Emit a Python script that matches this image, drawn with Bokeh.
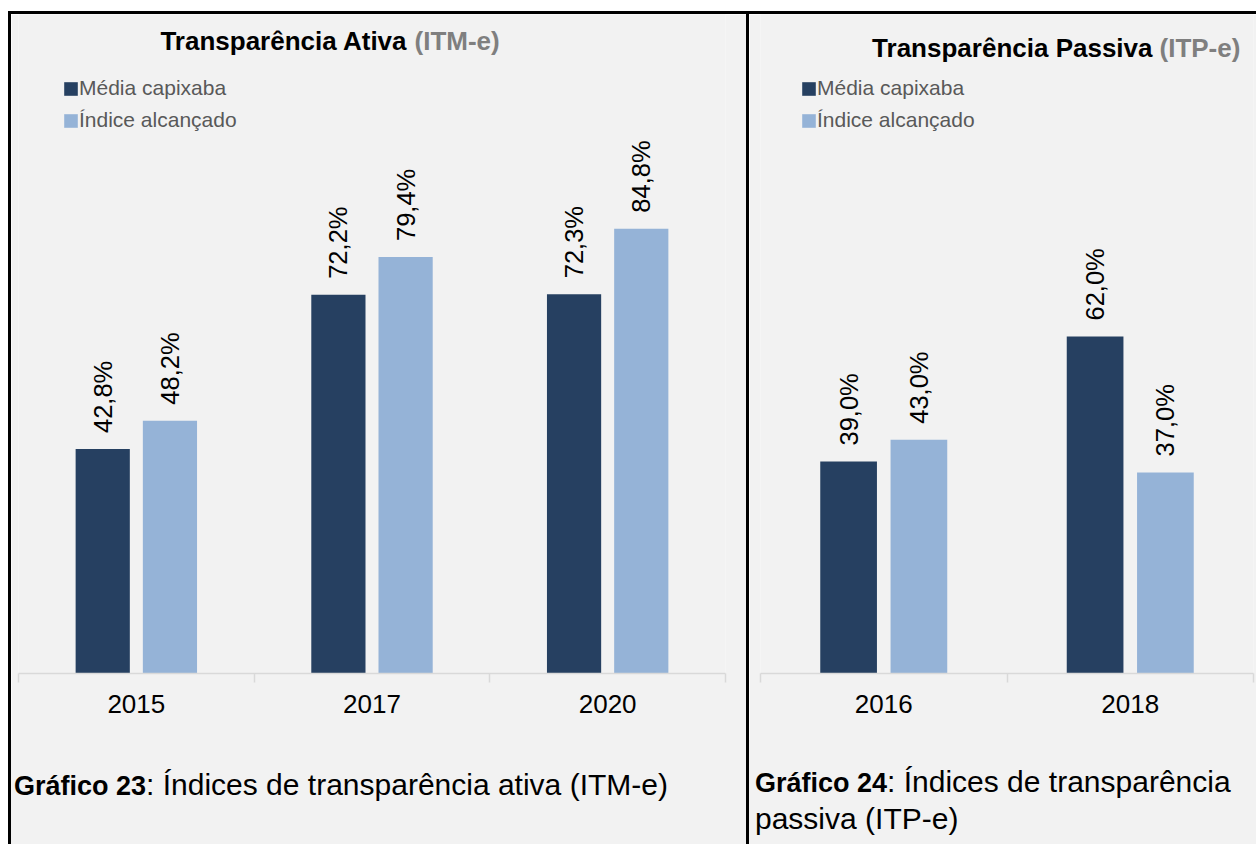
import math
from bokeh.plotting import figure
from bokeh.models import (Range1d, FixedTicker, ColumnDataSource, Label, Legend,
                          LegendItem, Spacer, Div)
from bokeh.layouts import row, column
from bokeh.core.properties import value
from bokeh.embed import file_html
from bokeh.resources import INLINE

# ---------------- data ----------------
years_ativa = ["2015", "2017", "2020"]
media_ativa = [42.8, 72.2, 72.3]
indice_ativa = [48.2, 79.4, 84.8]

years_passiva = ["2016", "2018"]
media_passiva = [39.0, 62.0]
indice_passiva = [43.0, 37.0]

series_names = ["Média capixaba", "Índice alcançado"]

caption_ativa = ("Gráfico 23", ": Índices de transparência ativa (ITM-e)")
caption_passiva = ("Gráfico 24", ": Índices de transparência<br>passiva (ITP-e)")

# ---------------- style ----------------
FONT = "Liberation Sans"
BG = "#f2f2f2"
DARK = "#264061"
LIGHT = "#95b3d7"
AXIS_GREY = "#d9d9d9"
OFF = 0.1426
BW = 0.23
FIG_H = 726
CAP_H = 104


def fmt(v):
    return f"{v:.1f}".replace(".", ",") + "%"


def make_panel(years, media, indice, width, borders, px_per_100, title_parts,
               legend_loc, caption, cap_pad):
    n = len(years)
    left, right, bottom = borders
    frame_h = FIG_H - bottom
    y_end = 100.0 * frame_h / px_per_100
    p = figure(width=width, height=FIG_H, x_range=Range1d(0, n),
               y_range=Range1d(0, y_end), output_backend="svg",
               toolbar_location=None, y_axis_location=None)
    p.min_border = 0
    p.min_border_left = left
    p.min_border_right = right
    p.min_border_top = 0
    p.min_border_bottom = bottom
    p.background_fill_color = BG
    p.border_fill_color = BG
    p.outline_line_color = None
    p.grid.visible = False

    centers = [i + 0.5 for i in range(n)]
    src = ColumnDataSource(dict(
        xm=[c - OFF for c in centers], xi=[c + OFF for c in centers],
        media=media, indice=indice,
        lm=[fmt(v) for v in media], li=[fmt(v) for v in indice]))

    r1 = p.vbar(x="xm", top="media", bottom=0, width=BW, source=src,
                fill_color=DARK, line_color=None)
    r2 = p.vbar(x="xi", top="indice", bottom=0, width=BW, source=src,
                fill_color=LIGHT, line_color=None)
    for xcol, tcol in (("xm", "media"), ("xi", "indice")):
        p.text(x=xcol, y=tcol, text="l" + tcol[0], source=src,
               angle=math.pi / 2, text_align="left", text_baseline="middle",
               y_offset=-16, text_font=value(FONT), text_font_size="25.5px",
               text_color="black")

    ax = p.xaxis[0]
    ax.ticker = FixedTicker(ticks=centers, minor_ticks=list(range(n + 1)))
    ax.major_label_overrides = {c: y for c, y in zip(centers, years)}
    ax.axis_line_color = AXIS_GREY
    ax.axis_line_width = 1.5
    ax.major_tick_line_color = None
    ax.major_tick_in = 0
    ax.major_tick_out = 0
    ax.minor_tick_line_color = AXIS_GREY
    ax.minor_tick_line_width = 1.5
    ax.minor_tick_in = 0
    ax.minor_tick_out = 9
    ax.major_label_standoff = 12
    ax.major_label_text_font = FONT
    ax.major_label_text_font_size = "26px"
    ax.major_label_text_color = "black"

    legend = Legend(items=[LegendItem(label=series_names[0], renderers=[r1]),
                           LegendItem(label=series_names[1], renderers=[r2])],
                    location=legend_loc, orientation="vertical",
                    glyph_width=17, glyph_height=17, label_height=24,
                    label_standoff=0, spacing=8, padding=0, margin=0,
                    label_text_font=FONT, label_text_font_size="21px",
                    label_text_color="#595959", border_line_color=None,
                    background_fill_alpha=0)
    p.add_layout(legend)

    for (txt, x, y, align, color) in title_parts:
        p.add_layout(Label(x=x, y=y, x_units="screen", y_units="screen",
                           text=txt, text_align=align, text_baseline="alphabetic",
                           text_font=FONT, text_font_size="26px",
                           text_font_style="bold", text_color=color))

    pad_top, pad_left = cap_pad
    html = (f"<div style=\"font-family:'{FONT}';font-size:30px;line-height:35px;"
            f"color:#000;padding-top:{pad_top}px;padding-left:{pad_left}px;"
            f"white-space:nowrap;\">"
            f"<b style=\"font-size:27px\">{caption[0]}</b>{caption[1]}</div>")
    d = Div(text=html, width=width, height=CAP_H,
            styles={"background-color": BG, "margin": "0", "padding": "0"})
    return column(p, d, spacing=0)


W1, W2 = 735, 507
panel1 = make_panel(
    years_ativa, media_ativa, indice_ativa, W1, (7, 21, 67), 524.5,
    [("Transparência Ativa", 389, 633, "right", "black"),
     ("(ITM-e)", 396, 633, "left", "#7f7f7f")],
    (44, 541), caption_ativa, (27, 3))

panel2 = make_panel(
    years_passiva, media_passiva, indice_passiva, W2, (11, 3, 67), 543.5,
    [("Transparência Passiva", 392, 626, "right", "black"),
     ("(ITP-e)", 399, 626, "left", "#7f7f7f")],
    (40, 541), caption_passiva, (24, 6))

PANEL_H = FIG_H + CAP_H
INNER_W = 3 + W1 + 3 + W2

layout = column(
    Spacer(width=8 + INNER_W, height=11),
    row(Spacer(width=8, height=3 + PANEL_H),
        column(Spacer(width=INNER_W, height=3, styles={"background-color": "black"}),
               row(Spacer(width=3, height=PANEL_H, styles={"background-color": "black"}),
                   panel1,
                   Spacer(width=3, height=PANEL_H, styles={"background-color": "black"}),
                   panel2, spacing=0),
               spacing=0),
        spacing=0),
    spacing=0)

open("out.html", "w").write(file_html(layout, INLINE))
